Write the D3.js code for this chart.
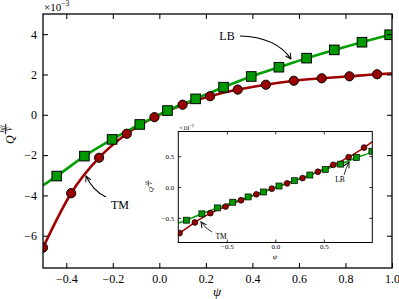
<!DOCTYPE html>
<html>
<head>
<style>
html, body {
    margin: 0;
    padding: 0;
    background: #fff;
    overflow: hidden;
}
svg text {
    font-family: "Liberation Serif", serif;
    fill: #000;
}
</style>
</head>
<body>
<script src="https://d3js.org/d3.v7.min.js"></script>
<script>
// main panel data (units of 1e-3)
const tmX = [-0.5, -0.379, -0.259, -0.14, -0.021, 0.10, 0.218, 0.337, 0.458, 0.578, 0.698, 0.817, 0.936];
const tmY = [-6.59, -3.89, -2.13, -0.94, -0.12, 0.50, 0.92, 1.25, 1.49, 1.69, 1.81, 1.91, 2.01];
const lbX = [-0.441, -0.322, -0.203, -0.084, 0.035, 0.156, 0.276, 0.395, 0.514, 0.633, 0.752, 0.871, 0.99];
const lbY = [-3.04, -2.05, -1.22, -0.48, 0.21, 0.79, 1.37, 1.90, 2.36, 2.81, 3.22, 3.60, 3.97];
// curve end values at the axis edges
const tmEnds = [[-0.5, -6.59], [1.0, 2.05]];
const lbEnds = [[-0.5, -3.5], [1.0, 4.0]];

// inset data (units of 1e-2)
const tmInX = [-0.987, -0.829, -0.670, -0.512, -0.353, -0.195, -0.036, 0.122, 0.281, 0.439, 0.598, 0.756, 0.915];
const tmInY = [-0.747, -0.575, -0.425, -0.317, -0.215, -0.118, -0.027, 0.059, 0.145, 0.247, 0.36, 0.484, 0.64];
const lbInX = [-0.916, -0.757, -0.598, -0.439, -0.280, -0.121, 0.038, 0.197, 0.356, 0.515, 0.674, 0.835, 0.996];
const lbInY = [-0.538, -0.435, -0.339, -0.247, -0.161, -0.081, 0.016, 0.102, 0.194, 0.285, 0.371, 0.479, 0.58];
const tmInEnds = [[-1.0, -0.76], [1.0, 0.73]];
const lbInEnds = [[-1.0, -0.585], [1.0, 0.585]];

const xTicks = [-0.4, -0.2, 0.0, 0.2, 0.4, 0.6, 0.8, 1.0];
const yTicks = [-6, -4, -2, 0, 2, 4];
const inTicks = [-0.5, 0.0, 0.5];

const red = "#a00000", redFill = "#990000";
const green = "#00a000", greenFill = "#009900";

const [W, H] = [399, 299];
const svg = d3.select("body").append("svg")
    .attr("width", W).attr("height", H);

const defs = svg.append("defs");
defs.append("marker")
    .attr("id", "arrow")
    .attr("viewBox", "0 0 10 10")
    .attr("refX", 9).attr("refY", 5)
    .attr("markerWidth", 7).attr("markerHeight", 7)
    .attr("markerUnits", "userSpaceOnUse")
    .attr("orient", "auto")
  .append("path")
    .attr("d", "M1,1 L9,5 L1,9")
    .attr("fill", "none")
    .attr("stroke", "#000")
    .attr("stroke-width", 1.4);

const pairs = (xs, ys) => xs.map((x, i) => [x, ys[i]]);

const drawPanel = (g, opt) => {
    const {x, y, id} = opt;
    const [x0, x1] = x.range(), [y1, y0] = y.range();

    g.append("rect")
        .attr("x", x0).attr("y", y0)
        .attr("width", x1 - x0).attr("height", y1 - y0)
        .attr("fill", "#fff");

    defs.append("clipPath").attr("id", id)
      .append("rect")
        .attr("x", x0).attr("y", y0)
        .attr("width", x1 - x0).attr("height", y1 - y0);

    const plot = g.append("g").attr("clip-path", `url(#${id})`);
    const line = d3.line()
        .x(d => x(d[0])).y(d => y(d[1]))
        .curve(d3.curveMonotoneX);

    opt.series.forEach(s => {
        const pts = [s.ends[0], ...pairs(s.xs, s.ys), s.ends[1]]
            .sort((a, b) => a[0] - b[0])
            .filter((d, i, arr) => i === 0 || d[0] !== arr[i - 1][0]);
        plot.append("path")
            .datum(pts)
            .attr("d", line)
            .attr("fill", "none")
            .attr("stroke", s.color)
            .attr("stroke-width", opt.lw);
    });

    opt.series.forEach(s => {
        const data = pairs(s.xs, s.ys);
        if (s.shape === "circle") {
            plot.selectAll(null).data(data).join("circle")
                .attr("cx", d => x(d[0])).attr("cy", d => y(d[1]))
                .attr("r", opt.r)
                .attr("fill", s.fill)
                .attr("stroke", "#000").attr("stroke-width", opt.mw);
        } else {
            plot.selectAll(null).data(data).join("rect")
                .attr("x", d => x(d[0]) - opt.sq / 2)
                .attr("y", d => y(d[1]) - opt.sq / 2)
                .attr("width", opt.sq).attr("height", opt.sq)
                .attr("fill", s.fill)
                .attr("stroke", "#000").attr("stroke-width", opt.mw);
        }
    });

    const ts = opt.tick;
    g.append("g").attr("transform", `translate(0,${y1})`)
        .call(d3.axisBottom(x).tickValues(opt.xTicks).tickSize(-ts).tickSizeOuter(0)
            .tickPadding(opt.xpad).tickFormat(d3.format(".1f")))
        .call(a => a.select(".domain").remove());
    g.append("g").attr("transform", `translate(0,${y0})`)
        .call(d3.axisTop(x).tickValues(opt.xTicks).tickSize(-ts).tickSizeOuter(0).tickFormat(""))
        .call(a => a.select(".domain").remove());
    g.append("g").attr("transform", `translate(${x0},0)`)
        .call(d3.axisLeft(y).tickValues(opt.yTicks).tickSize(-ts).tickSizeOuter(0)
            .tickPadding(opt.ypad).tickFormat(opt.yFmt))
        .call(a => a.select(".domain").remove());
    g.append("g").attr("transform", `translate(${x1},0)`)
        .call(d3.axisRight(y).tickValues(opt.yTicks).tickSize(-ts).tickSizeOuter(0).tickFormat(""))
        .call(a => a.select(".domain").remove());

    g.selectAll(".tick line").attr("stroke", "#000").attr("stroke-width", opt.fw * 0.8);
    g.selectAll(".tick text")
        .attr("font-family", "Liberation Serif, serif")
        .attr("font-size", opt.fs)
        .attr("fill", "#000");

    g.append("rect")
        .attr("x", x0).attr("y", y0)
        .attr("width", x1 - x0).attr("height", y1 - y0)
        .attr("fill", "none")
        .attr("stroke", "#000").attr("stroke-width", opt.fw);
};

// Q^{hβ/V} label, rotated
const qLabel = (g, cx, cy, fs) => {
    const t = g.append("g").attr("transform", `translate(${cx},${cy}) rotate(-90)`);
    t.append("text").attr("x", -0.75 * fs).attr("y", 0.35 * fs)
        .attr("font-size", fs).attr("font-style", "italic").text("Q");
    const f = fs * 0.6;
    t.append("text").attr("x", 0.5 * fs).attr("y", -0.45 * fs)
        .attr("text-anchor", "middle").attr("font-size", f).attr("font-style", "italic").text("hβ");
    t.append("line")
        .attr("x1", 0.05 * fs).attr("x2", 0.95 * fs)
        .attr("y1", -0.36 * fs).attr("y2", -0.36 * fs)
        .attr("stroke", "#000").attr("stroke-width", fs / 14);
    t.append("text").attr("x", 0.5 * fs).attr("y", 0.16 * fs)
        .attr("text-anchor", "middle").attr("font-size", f).attr("font-style", "italic").text("V");
};

const arrow = (g, p0, c, p1, w) => {
    g.append("path")
        .attr("d", `M${p0[0]},${p0[1]} Q${c[0]},${c[1]} ${p1[0]},${p1[1]}`)
        .attr("fill", "none")
        .attr("stroke", "#000").attr("stroke-width", w)
        .attr("marker-end", "url(#arrow)");
};

// ---- main panel
const x = d3.scaleLinear().domain([-0.5, 1.0]).range([43, 392]);
const y = d3.scaleLinear().domain([-7.6, 5]).range([268, 14]);
const main = svg.append("g");
drawPanel(main, {
    x, y, id: "clipMain",
    series: [
        {xs: tmX, ys: tmY, ends: tmEnds, color: red, fill: redFill, shape: "circle"},
        {xs: lbX, ys: lbY, ends: lbEnds, color: green, fill: greenFill, shape: "square"}
    ],
    xTicks, yTicks, yFmt: d3.format("d"),
    lw: 2.6, r: 4.6, sq: 9.6, mw: 1, tick: 5, xpad: 6, ypad: 6, fs: 12, fw: 1.3
});

main.append("text").attr("x", 44).attr("y", 11).attr("font-size", 11)
    .text("×10")
  .append("tspan").attr("dy", -5).attr("font-size", 7.5).text("−3");
main.append("text").attr("x", 217).attr("y", 296)
    .attr("text-anchor", "middle").attr("font-size", 13).attr("font-style", "italic").text("ψ");
qLabel(main, 10, 135, 12);

main.append("text").attr("x", 227).attr("y", 40)
    .attr("text-anchor", "middle").attr("font-size", 12).text("LB");
arrow(main, [240, 36], [276, 37], [291, 59], 1.1);
main.append("text").attr("x", 120).attr("y", 209)
    .attr("text-anchor", "middle").attr("font-size", 12).text("TM");
arrow(main, [106, 197], [93, 191], [86, 176], 1.1);

// ---- inset
const xi = d3.scaleLinear().domain([-1, 1]).range([178.3, 372.3]);
const yi = d3.scaleLinear().domain([-0.9, 0.9]).range([242.5, 131.5]);
const inset = svg.append("g");
drawPanel(inset, {
    x: xi, y: yi, id: "clipInset",
    series: [
        {xs: tmInX, ys: tmInY, ends: tmInEnds, color: red, fill: redFill, shape: "circle"},
        {xs: lbInX, ys: lbInY, ends: lbInEnds, color: green, fill: greenFill, shape: "square"}
    ],
    xTicks: inTicks, yTicks: inTicks, yFmt: d3.format(".1f"),
    lw: 1.5, r: 2.9, sq: 6, mw: 0.7, tick: 3, xpad: 2, ypad: 4, fs: 7, fw: 1
});

inset.append("text").attr("x", 179).attr("y", 130).attr("font-size", 6.5)
    .text("×10")
  .append("tspan").attr("dy", -3).attr("font-size", 4.5).text("−2");
inset.append("text").attr("x", 275).attr("y", 259)
    .attr("text-anchor", "middle").attr("font-size", 7).attr("font-style", "italic").text("ψ");
qLabel(inset, 151, 187, 7);

inset.append("text").attr("x", 340).attr("y", 182)
    .attr("text-anchor", "middle").attr("font-size", 7.5).text("LB");
arrow(inset, [344, 175], [346, 168], [349, 162], 0.8);
inset.append("text").attr("x", 221).attr("y", 239)
    .attr("text-anchor", "middle").attr("font-size", 7.5).text("TM");
arrow(inset, [212, 232], [206, 229], [201, 222], 0.8);
</script>
</body>
</html>
